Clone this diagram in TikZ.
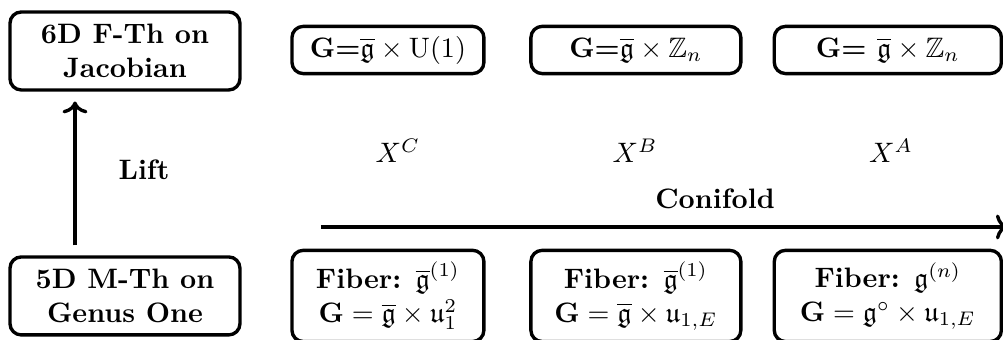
\documentclass[tikz,border=0pt]{standalone}
\usepackage{amsmath}
\usepackage{amssymb}
\usepackage{tikz}
\usetikzlibrary{positioning,arrows.meta}

\begin{document}
\begin{tikzpicture}[
    box/.style={draw, very thick, rounded corners=4pt, align=center, font=\bfseries, inner sep=2pt},
    thbox/.style={box, minimum width=2.875cm, minimum height=0.975cm},
    grpbox/.style={box, minimum height=0.59cm},
    fibbox/.style={box, minimum height=1.14cm},
    lbl/.style={font=\bfseries},
    arr/.style={->, very thick}
  ]
    \clip (0,0) rectangle (12.54,4.25);

    % theories
    \node[thbox] (jac) at (1.5625,3.6125) {6D F-Th on\\Jacobian};
    \node[thbox] (gen) at (1.5625,0.55) {5D M-Th on\\Genus One};

    % gauge groups, top row
    \node[grpbox, minimum width=2.4cm] (gc) at (4.85,3.625) {G=$\overline{\mathfrak{g}}\times\mathrm{U}(1)$};
    \node[grpbox, minimum width=2.625cm] (gb) at (7.95,3.625) {G=$\overline{\mathfrak{g}}\times\mathbb{Z}_n$};
    \node[grpbox, minimum width=2.84cm] (ga) at (11.1,3.625) {G= $\overline{\mathfrak{g}}\times\mathbb{Z}_n$};

    % fibers, bottom row
    \node[fibbox, minimum width=2.4cm] (fc) at (4.85,0.55) {Fiber: $\overline{\mathfrak{g}}^{(1)}$\\$\mathbf{G}=\overline{\mathfrak{g}}\times\mathfrak{u}_1^2$};
    \node[fibbox, minimum width=2.625cm] (fb) at (7.95,0.55) {Fiber: $\overline{\mathfrak{g}}^{(1)}$\\$\mathbf{G}=\overline{\mathfrak{g}}\times\mathfrak{u}_{1,E}$};
    \node[fibbox, minimum width=2.84cm] (fa) at (11.1,0.55) {Fiber: $\mathfrak{g}^{(n)}$\\$\mathbf{G}=\mathfrak{g}^{\circ}\times\mathfrak{u}_{1,E}$};

    % geometries
    \node (xc) at (4.975,2.36) {$X^C$};
    \node (xb) at (7.94,2.36) {$X^B$};
    \node (xa) at (11.14,2.36) {$X^A$};

    \node[lbl] (lift) at (1.8,2.125) {Lift};
    \node[lbl] (coni) at (8.94,1.76) {Conifold};

    \coordinate (cs) at (4.0125,1.4125);
    \coordinate (ce) at (12.6,1.4125);

    \draw[arr, shorten <=3.5pt, shorten >=3.5pt] ([xshift=-0.625cm]gen.north) -- ([xshift=-0.625cm]jac.south);
    \draw[arr] (cs) -- (ce);
\end{tikzpicture}
\end{document}
